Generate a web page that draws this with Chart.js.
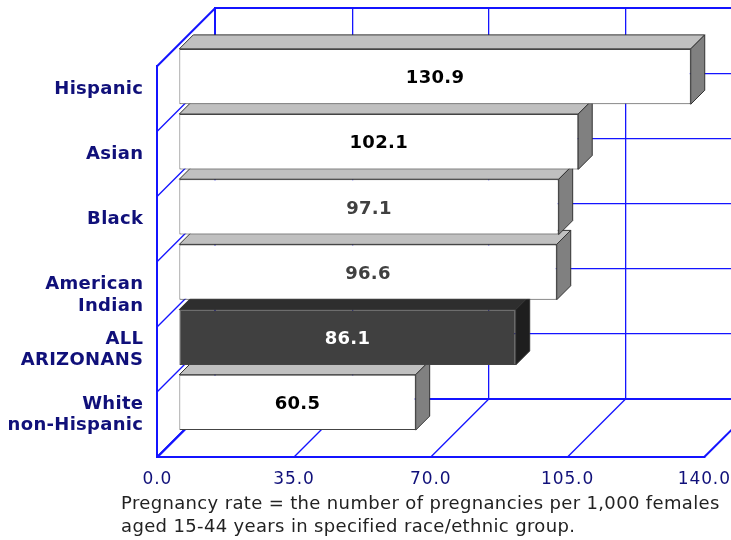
<!DOCTYPE html>
<html>
<head>
<meta charset="utf-8">
<script src="https://cdn.jsdelivr.net/npm/chart.js@4/dist/chart.umd.min.js"></script>
<style>
  html, body { margin: 0; padding: 0; background: #ffffff; }
  #wrap { width: 731px; height: 540px; }
</style>
</head>
<body>
<div id="wrap"><canvas id="c" width="731" height="540"></canvas></div>
<script>
// Pregnancy rates by race/ethnic group (per 1,000 females aged 15-44)
const categories = ['Hispanic', 'Asian', 'Black', ['', 'American', 'Indian'], ['ALL', 'ARIZONANS'], ['White', 'non-Hispanic']];
const rates = [130.9, 102.1, 97.1, 96.6, 86.1, 60.5];
const axisTicks = [0, 35, 70, 105, 140];
const footnote = [
  'Pregnancy rate = the number of pregnancies per 1,000 females',
  'aged 15-44 years in specified race/ethnic group.'
];

// styling
const FONT = '"DejaVu Sans", Verdana, sans-serif';
const NAVY = '#10107a';
const WALL = '#1414ff';
const highlight = 4; // the state-wide bar
const frontColors = rates.map((_, i) => i === highlight ? '#404040' : '#ffffff');
const topColors = rates.map((_, i) => i === highlight ? '#2e2e2e' : '#c0c0c0');
const sideColors = rates.map((_, i) => i === highlight ? '#1e1e1e' : '#808080');
const valueColors = ['#000000', '#000000', '#404040', '#404040', '#ffffff', '#000000'];

// depth geometry of the 3-D box, relative to the bar front plane
const FRONT = { dx: -22, dy: 22 };
const BACK = { dx: 36, dy: -36 };
const BAR_DEPTH = 14;
const THIN = 1.3;
const THICK = 2;

// place axis-aligned lines on the pixel grid (thin lines get a soft edge)
function snap(v, w) {
  return w === THICK ? Math.round(v) : Math.round(v - 0.5) + 0.65;
}

function line(ctx, x1, y1, x2, y2, w) {
  if (x1 === x2) { x1 = x2 = snap(x1, w); }
  if (y1 === y2) { y1 = y2 = snap(y1, w); }
  ctx.lineWidth = w;
  ctx.beginPath();
  ctx.moveTo(x1, y1);
  ctx.lineTo(x2, y2);
  ctx.stroke();
}

// letter spacing for an axis' tick labels
function spacedLabels(scale, spacing) {
  if (scale._spaced) return;
  scale._spaced = true;
  const drawLabels = scale.drawLabels;
  scale.drawLabels = function (area) {
    const ctx = this.ctx;
    ctx.save();
    ctx.letterSpacing = spacing;
    drawLabels.call(this, area);
    ctx.restore();
  };
}

const box3d = {
  id: 'box3d',
  beforeDatasetsDraw(chart) {
    const ctx = chart.ctx;
    const xs = chart.scales.x, ys = chart.scales.y;
    const n = categories.length;
    const edges = [];
    for (let k = 0; k <= n; k++) edges.push(ys.getPixelForValue(k - 0.5));
    const x0 = xs.getPixelForValue(axisTicks[0]);
    const xMax = xs.getPixelForValue(axisTicks[axisTicks.length - 1]);
    const yBottom = edges[n];
    ctx.save();
    ctx.strokeStyle = WALL;
    ctx.lineCap = 'butt';

    // back wall: horizontal band lines and vertical value lines
    edges.forEach((e, k) => {
      line(ctx, x0 + BACK.dx, e + BACK.dy, xMax + BACK.dx, e + BACK.dy, (k === 0 || k === n) ? THICK : THIN);
    });
    axisTicks.forEach((v, i) => {
      const px = xs.getPixelForValue(v) + BACK.dx;
      const edge = i === 0 || i === axisTicks.length - 1;
      line(ctx, px, edges[0] + BACK.dy - 1, px, yBottom + BACK.dy + 1, edge ? THICK : THIN);
    });

    // left wall
    edges.forEach((e, k) => {
      line(ctx, x0 + FRONT.dx, e + FRONT.dy, x0 + BACK.dx, e + BACK.dy, (k === 0 || k === n) ? THICK : THIN);
    });
    line(ctx, x0 + FRONT.dx, edges[0] + FRONT.dy - 1, x0 + FRONT.dx, yBottom + FRONT.dy + 1, THICK);

    // floor
    line(ctx, x0 + FRONT.dx - 1, yBottom + FRONT.dy, xMax + FRONT.dx + 1, yBottom + FRONT.dy, THICK);
    axisTicks.forEach((v, i) => {
      const px = xs.getPixelForValue(v);
      const edge = i === 0 || i === axisTicks.length - 1;
      line(ctx, px + FRONT.dx, yBottom + FRONT.dy, px + BACK.dx, yBottom + BACK.dy, edge ? THICK : THIN);
    });

    // bar tops and right-hand sides
    const meta = chart.getDatasetMeta(0);
    for (let i = meta.data.length - 1; i >= 0; i--) {
      const p = meta.data[i].getProps(['x', 'y', 'base', 'height'], true);
      const top = p.y - p.height / 2, bottom = p.y + p.height / 2;
      const d = BAR_DEPTH;
      ctx.lineWidth = 1;
      ctx.strokeStyle = '#333333';
      ctx.fillStyle = topColors[i];
      ctx.beginPath();
      ctx.moveTo(p.base, top);
      ctx.lineTo(p.base + d, top - d);
      ctx.lineTo(p.x + d, top - d);
      ctx.lineTo(p.x, top);
      ctx.closePath();
      ctx.fill();
      ctx.stroke();
      ctx.fillStyle = sideColors[i];
      ctx.beginPath();
      ctx.moveTo(p.x, top);
      ctx.lineTo(p.x + d, top - d);
      ctx.lineTo(p.x + d, bottom - d);
      ctx.lineTo(p.x, bottom);
      ctx.closePath();
      ctx.fill();
      ctx.stroke();
    }
    ctx.restore();
  },
  afterDatasetsDraw(chart) {
    const ctx = chart.ctx;
    const meta = chart.getDatasetMeta(0);
    ctx.save();
    ctx.font = 'bold 18px ' + FONT;
    ctx.letterSpacing = '0.3px';
    ctx.textAlign = 'center';
    ctx.textBaseline = 'middle';
    meta.data.forEach((bar, i) => {
      const p = bar.getProps(['x', 'y', 'base'], true);
      ctx.fillStyle = valueColors[i];
      ctx.fillText(rates[i].toFixed(1), (p.x + p.base) / 2, p.y + 2);
    });
    ctx.restore();
  },
  afterDraw(chart) {
    const ctx = chart.ctx;
    ctx.save();
    ctx.font = '18px ' + FONT;
    ctx.letterSpacing = '0.35px';
    ctx.fillStyle = '#222222';
    ctx.textAlign = 'left';
    ctx.textBaseline = 'alphabetic';
    footnote.forEach((t, i) => ctx.fillText(t, 121, 509 + i * 22.5));
    ctx.restore();
  }
};

new Chart(document.getElementById('c'), {
  type: 'bar',
  data: {
    labels: categories,
    datasets: [{
      data: rates,
      backgroundColor: frontColors,
      borderColor: '#444444',
      borderWidth: 1,
      borderSkipped: false,
      barPercentage: 0.85,
      categoryPercentage: 1.0
    }]
  },
  options: {
    indexAxis: 'y',
    responsive: false,
    animation: false,
    devicePixelRatio: 1,
    layout: { padding: { top: 44, right: 4.7, bottom: 0, left: 0 } },
    plugins: {
      legend: { display: false },
      tooltip: { enabled: false },
      title: { display: false }
    },
    scales: {
      x: {
        type: 'linear',
        min: 0,
        max: 140,
        afterBuildTicks(scale) {
          scale.ticks = axisTicks.map(v => ({ value: v }));
        },
        grid: { display: false, drawTicks: false },
        border: { display: false },
        ticks: {
          padding: 34,
          labelOffset: -22,
          color: NAVY,
          font: { family: FONT, size: 17 },
          maxRotation: 0,
          autoSkip: false,
          callback: v => Number(v).toFixed(1)
        },
        afterFit(scale) {
          scale.height = 105;
          scale.paddingLeft = 0;
          scale.paddingRight = 0;
          spacedLabels(scale, '0.9px');
        }
      },
      y: {
        grid: { display: false, drawTicks: false },
        border: { display: false },
        ticks: {
          padding: 36,
          labelOffset: 12.5,
          color: NAVY,
          font: { family: FONT, size: 18, weight: 'bold', lineHeight: 1.2 },
          autoSkip: false
        },
        afterFit(scale) {
          scale.width = 179.3;
          scale.paddingTop = 0;
          scale.paddingBottom = 0;
          spacedLabels(scale, '0.3px');
        }
      }
    }
  },
  plugins: [box3d]
});
</script>
</body>
</html>
